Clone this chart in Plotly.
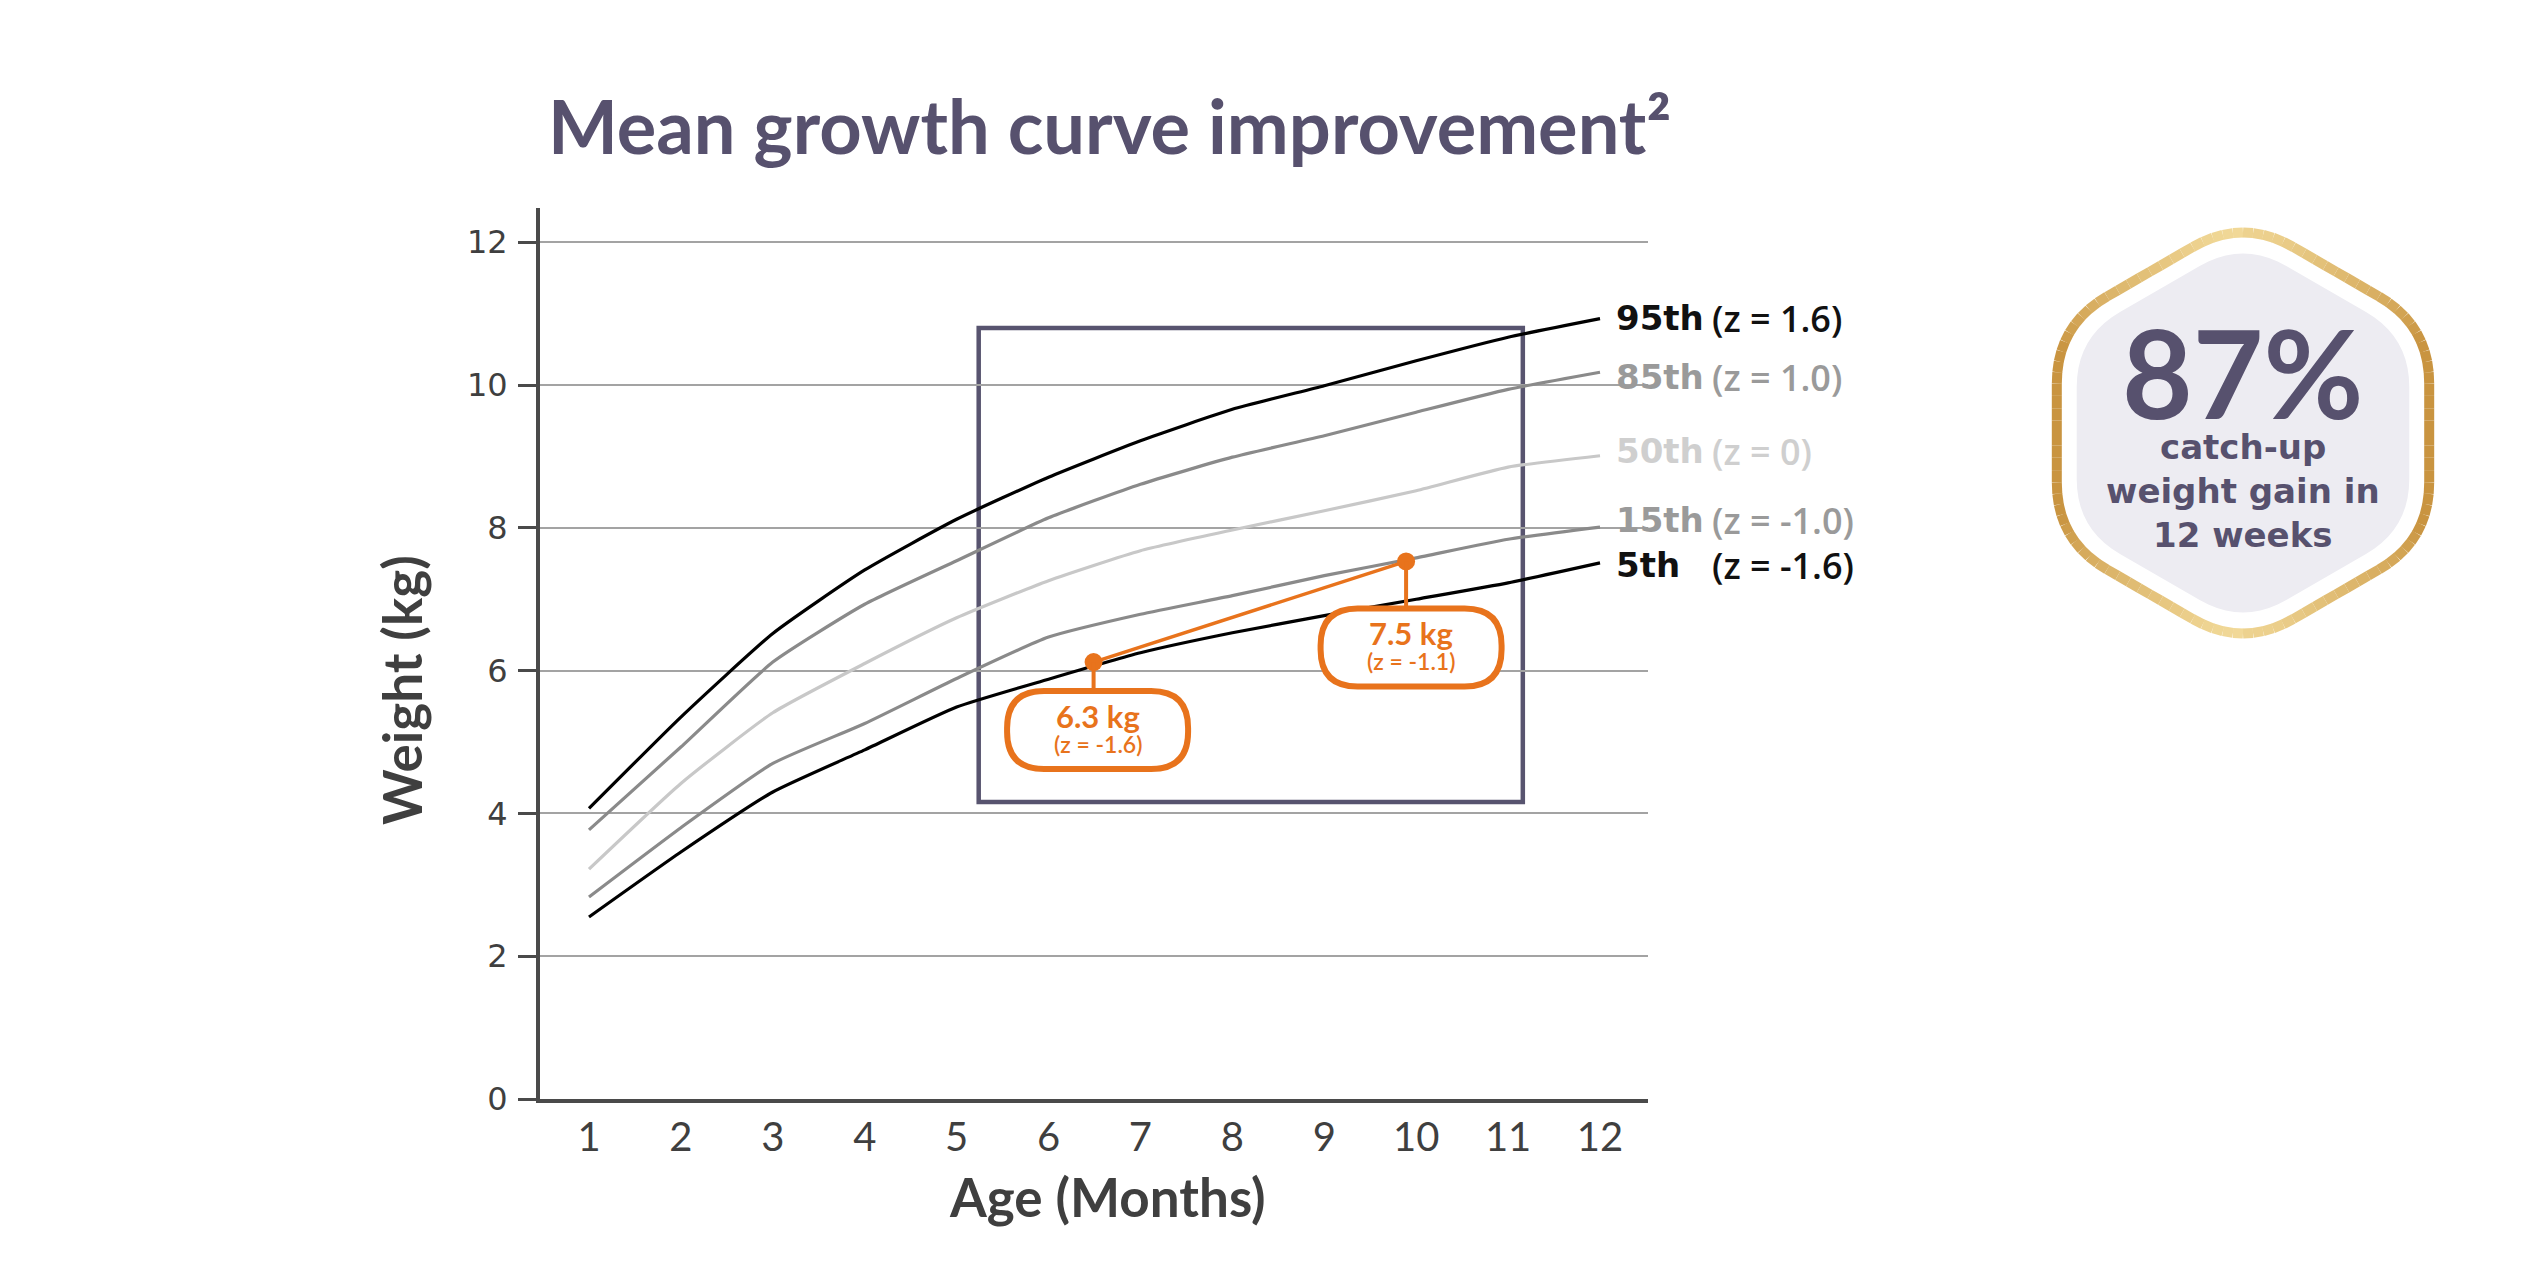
import math
import plotly.graph_objects as go

# ---------------- data ----------------
months = [1, 2, 3, 4, 5, 6, 7, 8, 9, 10, 11, 12]
p95 = [4.07, 5.35, 6.52, 7.41, 8.12, 8.71, 9.22, 9.66, 9.99, 10.34, 10.67, 10.93]
p85 = [3.77, 4.93, 6.12, 6.93, 7.54, 8.14, 8.61, 8.99, 9.29, 9.62, 9.94, 10.18]
p50 = [3.22, 4.42, 5.41, 6.10, 6.74, 7.26, 7.68, 7.97, 8.24, 8.52, 8.85, 9.01]
p15 = [2.83, 3.80, 4.70, 5.26, 5.89, 6.47, 6.79, 7.05, 7.33, 7.58, 7.84, 8.01]
p5 = [2.55, 3.46, 4.30, 4.89, 5.49, 5.88, 6.25, 6.53, 6.77, 7.00, 7.23, 7.51]
series_names = ["95th", "85th", "50th", "15th", "5th"]
z_labels = ["(z = 1.6)", "(z = 1.0)", "(z = 0)", "(z = -1.0)", "(z = -1.6)"]

patient_x = [6.49, 9.89]
patient_y = [6.12, 7.53]
patient_kg = ["6.3 kg", "7.5 kg"]
patient_z = ["(z = -1.6)", "(z = -1.1)"]

box_x = [5.24, 11.16]
box_y = [4.16, 10.80]

y_ticks = [0, 2, 4, 6, 8, 10, 12]
x_ticks = months

title_text = "Mean growth curve improvement\u00b2"
badge_big = "87%"
badge_lines = ["catch-up", "weight gain in", "12 weeks"]

# ---------------- layout constants ----------------
W, H = 2546, 1274
L, R, T, B = 540, 898, 208, 175
PW, PH = W - L - R, H - T - B
XR = [0.467, 12.522]
YR = [0, 12.48]
FONT = "Lato"
WIDE = "DejaVu Sans"
PURPLE = "#57516E"
AXIS_TXT = "#3F3F3F"
ORANGE = "#E8731C"
line_colors = ["#000000", "#8A8A8A", "#C8C8C8", "#8A8A8A", "#000000"]
label_colors = ["#111111", "#9A9A9A", "#CFCFCF", "#9A9A9A", "#111111"]
label_px_y = [318, 377, 451, 520, 565]


def px(x):
    return (x - L) / PW


def py(y):
    return (H - B - y) / PH


def d2px(v):
    return L + (v - XR[0]) / (XR[1] - XR[0]) * PW


def d2py(v):
    return H - B - (v - YR[0]) / (YR[1] - YR[0]) * PH


fig = go.Figure()

for name, vals, col in zip(series_names, [p95, p85, p50, p15, p5], line_colors):
    fig.add_trace(go.Scatter(
        x=months, y=vals, mode="lines", name=name,
        line=dict(color=col, width=3.2, shape="spline", smoothing=0.5),
        hoverinfo="skip", showlegend=False))

fig.add_trace(go.Scatter(
    x=patient_x, y=patient_y, mode="lines+markers",
    line=dict(color=ORANGE, width=3.5),
    marker=dict(color=ORANGE, size=18),
    showlegend=False, hoverinfo="skip"))

shapes = []
annotations = []

# Highlight box
shapes.append(dict(type="rect", xref="x", yref="y", x0=box_x[0], x1=box_x[1],
                   y0=box_y[0], y1=box_y[1],
                   line=dict(color="#58546F", width=4.5), layer="below"))


def rounded_rect_path(x0, y0, x1, y1, r):
    pts = [
        ("M", [(x0 + r, y0)]),
        ("L", [(x1 - r, y0)]),
        ("Q", [(x1, y0), (x1, y0 + r)]),
        ("L", [(x1, y1 - r)]),
        ("Q", [(x1, y1), (x1 - r, y1)]),
        ("L", [(x0 + r, y1)]),
        ("Q", [(x0, y1), (x0, y1 - r)]),
        ("L", [(x0, y0 + r)]),
        ("Q", [(x0, y0), (x0 + r, y0)]),
    ]
    s = ""
    for cmd, ps in pts:
        s += cmd + " " + " ".join(f"{px(a):.5f},{py(b):.5f}" for a, b in ps) + " "
    return s + "Z"


# Callouts
callout_w, callout_h = 181, 78
callout_dx = [4, 5]
callout_gap = [29, 47]
for i in range(2):
    ptx = d2px(patient_x[i])
    pty = d2py(patient_y[i])
    cx = ptx + callout_dx[i]
    top = pty + callout_gap[i]
    x0, x1 = cx - callout_w / 2, cx + callout_w / 2
    y0, y1 = top, top + callout_h
    shapes.append(dict(type="line", xref="paper", yref="paper",
                       x0=px(ptx), x1=px(ptx), y0=py(pty), y1=py(top),
                       line=dict(color=ORANGE, width=4)))
    shapes.append(dict(type="path", xref="paper", yref="paper",
                       path=rounded_rect_path(x0, y0, x1, y1, 37),
                       fillcolor="white", line=dict(color=ORANGE, width=6)))
    annotations.append(dict(xref="paper", yref="paper", x=px(cx), y=py(top + 25),
                            text=f"<b>{patient_kg[i]}</b>", showarrow=False,
                            font=dict(family=FONT, size=31, color=ORANGE),
                            xanchor="center", yanchor="middle"))
    annotations.append(dict(xref="paper", yref="paper", x=px(cx), y=py(top + 53),
                            text=patient_z[i], showarrow=False,
                            font=dict(family=FONT, size=23, color=ORANGE, weight=600),
                            xanchor="center", yanchor="middle"))

# Series labels at right
for i in range(5):
    annotations.append(dict(xref="paper", yref="paper", x=px(1614), y=py(label_px_y[i]),
                            text=f"<b>{series_names[i]}</b>", showarrow=False,
                            font=dict(family=WIDE, size=34, color=label_colors[i]),
                            xanchor="left", yanchor="middle"))
    annotations.append(dict(xref="paper", yref="paper", x=px(1710), y=py(label_px_y[i]),
                            text=z_labels[i], showarrow=False,
                            font=dict(family="Open Sans", size=36, color=label_colors[i],
                                      weight=600),
                            xanchor="left", yanchor="middle"))

# Title and axis titles
annotations.append(dict(xref="paper", yref="paper", x=px(1109), y=py(125),
                        text=f"<b>{title_text}</b>", showarrow=False,
                        font=dict(family=FONT, size=74, color=PURPLE),
                        xanchor="center", yanchor="middle"))
annotations.append(dict(xref="paper", yref="paper", x=px(1107), y=py(1196),
                        text="<b>Age (Months)</b>", showarrow=False,
                        font=dict(family=FONT, size=53, color=AXIS_TXT),
                        xanchor="center", yanchor="middle"))
annotations.append(dict(xref="paper", yref="paper", x=px(401), y=py(690),
                        text="<b>Weight (kg)</b>", showarrow=False, textangle=-90,
                        font=dict(family=FONT, size=53, color=AXIS_TXT),
                        xanchor="center", yanchor="middle"))


# Hexagon badge (rounded corners)
def hex_outline(cx, cy, rad, rc, n_corner=10, n_edge=8):
    verts = []
    for k in range(6):
        a = math.radians(-90 + 60 * k)
        verts.append((cx + rad * math.cos(a), cy + rad * math.sin(a)))
    t = rc / rad
    pts = []
    for k in range(6):
        v = verts[k]
        pv = verts[k - 1]
        nv = verts[(k + 1) % 6]
        a_pt = (v[0] + (pv[0] - v[0]) * t, v[1] + (pv[1] - v[1]) * t)
        b_pt = (v[0] + (nv[0] - v[0]) * t, v[1] + (nv[1] - v[1]) * t)
        for j in range(n_corner + 1):
            s = j / n_corner
            qx = (1 - s) ** 2 * a_pt[0] + 2 * (1 - s) * s * v[0] + s ** 2 * b_pt[0]
            qy = (1 - s) ** 2 * a_pt[1] + 2 * (1 - s) * s * v[1] + s ** 2 * b_pt[1]
            pts.append((qx, qy))
        nxt_a = (nv[0] + (v[0] - nv[0]) * t, nv[1] + (v[1] - nv[1]) * t)
        for j in range(1, n_edge):
            s = j / n_edge
            pts.append((b_pt[0] + (nxt_a[0] - b_pt[0]) * s,
                        b_pt[1] + (nxt_a[1] - b_pt[1]) * s))
    return pts


def poly_path(pts):
    s = "M " + " L ".join(f"{px(a):.5f},{py(b):.5f}" for a, b in pts)
    return s + " Z"


def lerp_col(c1, c2, t):
    t = max(0.0, min(1.0, t))
    a = [int(c1[i:i + 2], 16) for i in (1, 3, 5)]
    b = [int(c2[i:i + 2], 16) for i in (1, 3, 5)]
    return "#" + "".join(f"{round(a[i] + (b[i] - a[i]) * t):02x}" for i in range(3))


HX, HY = 2243, 433
outer = hex_outline(HX, HY, 215, 58)
shapes.append(dict(type="path", xref="paper", yref="paper",
                   path=poly_path(outer), fillcolor="white", line=dict(width=0)))
DARK_GOLD, LIGHT_GOLD = "#C99440", "#F3DC9C"
for k in range(len(outer)):
    a = outer[k]
    b = outer[(k + 1) % len(outer)]
    my = (a[1] + b[1]) / 2
    mxv = (a[0] + b[0]) / 2
    tt = abs(my - HY) / 205
    tt = (tt - 0.45) / 0.55
    col = lerp_col(DARK_GOLD, LIGHT_GOLD, tt * 0.9 + (0.08 if mxv < HX else 0))
    shapes.append(dict(type="path", xref="paper", yref="paper",
                       path=f"M {px(a[0]):.5f},{py(a[1]):.5f} L {px(b[0]):.5f},{py(b[1]):.5f}",
                       line=dict(color=col, width=10)))
inner = hex_outline(HX, HY, 192, 50)
shapes.append(dict(type="path", xref="paper", yref="paper",
                   path=poly_path(inner), fillcolor="#EDECF2", line=dict(width=0)))

annotations.append(dict(xref="paper", yref="paper", x=px(HX), y=py(372),
                        text=f"<b>{badge_big}</b>", showarrow=False,
                        font=dict(family=FONT, size=122, color=PURPLE),
                        xanchor="center", yanchor="middle"))
for txt, yy in zip(badge_lines, [447, 491, 535]):
    annotations.append(dict(xref="paper", yref="paper", x=px(HX), y=py(yy),
                            text=f"<b>{txt}</b>", showarrow=False,
                            font=dict(family=WIDE, size=34, color=PURPLE),
                            xanchor="center", yanchor="middle"))

fig.update_layout(
    width=W, height=H,
    margin=dict(l=L, r=R, t=T, b=B, pad=0),
    paper_bgcolor="white", plot_bgcolor="white",
    shapes=shapes, annotations=annotations,
    xaxis=dict(range=XR, tickvals=x_ticks, ticktext=[str(m) for m in x_ticks],
               showgrid=False, zeroline=False, showline=True,
               linecolor="#4A4A4A", linewidth=4, ticks="",
               ticklabelstandoff=0,
               tickfont=dict(family="Lato", size=40, color=AXIS_TXT)),
    yaxis=dict(range=YR, tickvals=y_ticks, ticktext=[str(v) for v in y_ticks],
               showgrid=True, gridcolor="#A3A3A3", gridwidth=1.5,
               zeroline=False, showline=True, linecolor="#4A4A4A", linewidth=4,
               ticks="outside", ticklen=18, tickwidth=3, tickcolor="#4A4A4A",
               ticklabelstandoff=4,
               tickfont=dict(family=WIDE, size=32, color=AXIS_TXT)),
)

fig.write_html("out.html")
